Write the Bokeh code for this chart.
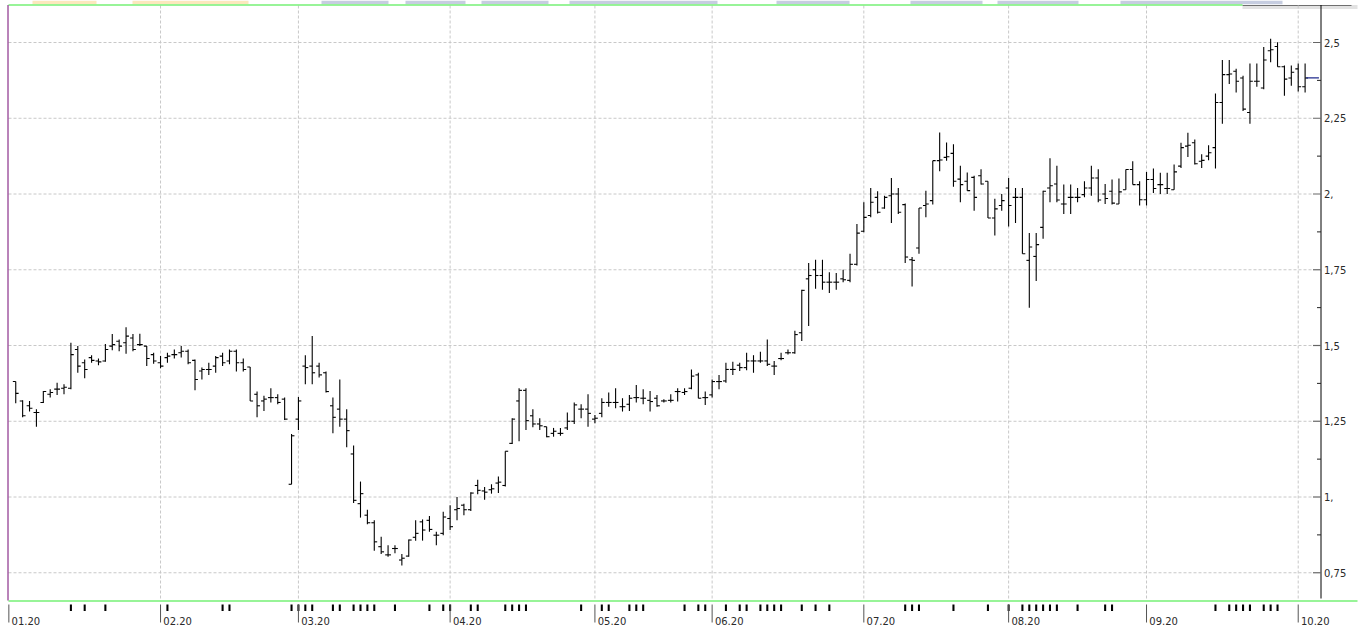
from bokeh.plotting import figure
from bokeh.models import Range1d
from bokeh.core.properties import value
from bokeh.embed import file_html
from bokeh.resources import INLINE

# ---------------- data ----------------
bar_open = [
    1.381, 1.317, 1.301, 1.279, 1.312, 1.339, 1.356, 1.359, 1.359, 1.487,
    1.443, 1.460, 1.449, 1.449, 1.498, 1.514, 1.509, 1.525, 1.503, 1.498,
    1.470, 1.443, 1.460, 1.470, 1.476, 1.481, 1.451, 1.416, 1.421, 1.432,
    1.465, 1.449, 1.481, 1.443, 1.429, 1.339, 1.317, 1.328, 1.328, 1.323,
    1.042, 1.257, 1.432, 1.432, 1.432, 1.410, 1.301, 1.290, 1.257, 1.142,
    0.978, 0.940, 0.915, 0.836, 0.809, 0.830, 0.792, 0.805, 0.867, 0.918,
    0.923, 0.874, 0.880, 0.929, 0.958, 0.973, 0.958, 1.038, 1.020, 1.024,
    1.046, 1.038, 1.177, 1.317, 1.352, 1.268, 1.241, 1.232, 1.210, 1.210,
    1.228, 1.250, 1.290, 1.290, 1.257, 1.276, 1.312, 1.312, 1.298, 1.306,
    1.328, 1.326, 1.319, 1.326, 1.317, 1.319, 1.348, 1.345, 1.359, 1.403,
    1.328, 1.337, 1.381, 1.383, 1.421, 1.435, 1.427, 1.449, 1.449, 1.449,
    1.432, 1.457, 1.476, 1.476, 1.542, 1.720, 1.750, 1.731, 1.709, 1.709,
    1.720, 1.715, 1.768, 1.877, 1.929, 1.989, 1.954, 1.994, 2.000, 1.965,
    1.783, 1.822, 1.962, 1.978, 2.110, 2.121, 2.134, 2.049, 2.042, 2.055,
    2.060, 2.042, 1.921, 1.962, 2.020, 1.989, 1.989, 1.781, 1.794, 1.890,
    2.020, 2.033, 1.967, 1.989, 1.989, 1.998, 2.020, 2.053, 2.000, 2.009,
    1.967, 2.014, 2.081, 2.031, 1.981, 2.048, 2.031, 2.018, 2.014, 2.092,
    2.158, 2.169, 2.108, 2.125, 2.153, 2.302, 2.394, 2.405, 2.383, 2.269,
    2.372, 2.350, 2.473, 2.487, 2.420, 2.383, 2.413, 2.354,
]
bar_high = [
    1.381, 1.319, 1.317, 1.290, 1.350, 1.356, 1.377, 1.372, 1.509, 1.498,
    1.454, 1.468, 1.457, 1.505, 1.538, 1.520, 1.560, 1.538, 1.539, 1.498,
    1.476, 1.465, 1.476, 1.487, 1.498, 1.487, 1.454, 1.427, 1.443, 1.465,
    1.476, 1.487, 1.487, 1.457, 1.429, 1.348, 1.334, 1.359, 1.339, 1.328,
    1.208, 1.330, 1.468, 1.531, 1.443, 1.414, 1.328, 1.388, 1.290, 1.170,
    1.051, 0.958, 0.923, 0.869, 0.841, 0.841, 0.812, 0.860, 0.923, 0.926,
    0.937, 0.885, 0.951, 0.973, 1.000, 0.978, 1.016, 1.057, 1.033, 1.042,
    1.068, 1.151, 1.260, 1.359, 1.359, 1.290, 1.260, 1.232, 1.228, 1.228,
    1.279, 1.312, 1.306, 1.339, 1.271, 1.326, 1.345, 1.359, 1.326, 1.337,
    1.370, 1.356, 1.350, 1.337, 1.323, 1.339, 1.359, 1.359, 1.421, 1.410,
    1.348, 1.388, 1.403, 1.443, 1.446, 1.443, 1.476, 1.468, 1.479, 1.520,
    1.449, 1.476, 1.487, 1.549, 1.684, 1.772, 1.783, 1.783, 1.742, 1.739,
    1.750, 1.803, 1.901, 1.973, 2.020, 2.009, 1.994, 2.053, 2.020, 1.969,
    1.792, 1.954, 2.011, 2.110, 2.203, 2.170, 2.164, 2.093, 2.071, 2.060,
    2.082, 2.042, 1.984, 2.000, 2.053, 2.020, 2.020, 1.871, 1.871, 2.011,
    2.118, 2.093, 2.031, 2.031, 2.020, 2.042, 2.093, 2.082, 2.033, 2.048,
    2.051, 2.081, 2.108, 2.042, 2.073, 2.084, 2.070, 2.070, 2.097, 2.169,
    2.202, 2.180, 2.131, 2.161, 2.332, 2.442, 2.442, 2.413, 2.390, 2.431,
    2.431, 2.485, 2.512, 2.501, 2.424, 2.424, 2.431, 2.431,
]
bar_low = [
    1.309, 1.263, 1.282, 1.232, 1.310, 1.328, 1.337, 1.339, 1.356, 1.410,
    1.392, 1.443, 1.435, 1.446, 1.484, 1.481, 1.473, 1.481, 1.498, 1.432,
    1.440, 1.425, 1.443, 1.457, 1.460, 1.438, 1.352, 1.388, 1.403, 1.410,
    1.432, 1.438, 1.414, 1.414, 1.317, 1.263, 1.284, 1.312, 1.306, 1.254,
    1.042, 1.221, 1.372, 1.372, 1.394, 1.345, 1.210, 1.232, 1.164, 0.980,
    0.932, 0.910, 0.823, 0.812, 0.803, 0.814, 0.774, 0.803, 0.856, 0.856,
    0.885, 0.841, 0.874, 0.891, 0.923, 0.940, 0.954, 1.009, 0.991, 1.011,
    1.013, 1.035, 1.175, 1.184, 1.221, 1.230, 1.221, 1.197, 1.199, 1.202,
    1.221, 1.241, 1.260, 1.232, 1.243, 1.263, 1.298, 1.293, 1.282, 1.284,
    1.312, 1.306, 1.282, 1.298, 1.312, 1.312, 1.315, 1.337, 1.356, 1.326,
    1.304, 1.328, 1.356, 1.377, 1.403, 1.416, 1.418, 1.410, 1.443, 1.432,
    1.403, 1.451, 1.470, 1.473, 1.515, 1.564, 1.687, 1.684, 1.673, 1.684,
    1.709, 1.709, 1.764, 1.874, 1.923, 1.936, 1.951, 1.904, 1.934, 1.772,
    1.695, 1.803, 1.923, 1.965, 2.075, 2.110, 2.024, 1.973, 2.011, 1.945,
    2.031, 1.921, 1.863, 1.945, 1.893, 1.904, 1.803, 1.625, 1.713, 1.852,
    1.973, 1.973, 1.934, 1.934, 1.973, 1.989, 1.994, 1.973, 1.967, 1.965,
    1.967, 2.014, 2.031, 1.962, 1.962, 2.003, 2.000, 2.000, 2.014, 2.086,
    2.122, 2.097, 2.086, 2.111, 2.084, 2.232, 2.363, 2.335, 2.274, 2.232,
    2.354, 2.346, 2.435, 2.420, 2.324, 2.357, 2.338, 2.335,
]
bar_close = [
    1.342, 1.268, 1.293, 1.279, 1.348, 1.345, 1.356, 1.362, 1.470, 1.432,
    1.421, 1.451, 1.446, 1.487, 1.503, 1.498, 1.531, 1.487, 1.503, 1.457,
    1.449, 1.432, 1.465, 1.470, 1.481, 1.443, 1.388, 1.421, 1.421, 1.460,
    1.443, 1.481, 1.443, 1.421, 1.317, 1.301, 1.323, 1.328, 1.312, 1.257,
    1.202, 1.317, 1.427, 1.410, 1.403, 1.348, 1.263, 1.257, 1.219, 0.989,
    1.011, 0.915, 0.852, 0.819, 0.809, 0.830, 0.798, 0.858, 0.880, 0.891,
    0.893, 0.874, 0.934, 0.902, 0.962, 0.958, 1.013, 1.022, 1.016, 1.027,
    1.049, 1.151, 1.257, 1.352, 1.252, 1.241, 1.235, 1.199, 1.217, 1.210,
    1.250, 1.304, 1.290, 1.276, 1.260, 1.312, 1.312, 1.312, 1.298, 1.326,
    1.328, 1.326, 1.315, 1.301, 1.317, 1.319, 1.348, 1.348, 1.399, 1.326,
    1.328, 1.381, 1.381, 1.421, 1.421, 1.427, 1.449, 1.449, 1.449, 1.438,
    1.432, 1.457, 1.476, 1.536, 1.682, 1.731, 1.731, 1.709, 1.709, 1.709,
    1.717, 1.768, 1.871, 1.923, 1.973, 1.940, 1.989, 2.000, 1.940, 1.792,
    1.781, 1.954, 1.967, 2.110, 2.112, 2.123, 2.042, 2.031, 2.011, 1.989,
    2.033, 1.921, 1.951, 1.978, 1.962, 1.989, 1.803, 1.825, 1.833, 2.009,
    2.027, 1.980, 1.967, 1.989, 1.989, 2.020, 2.053, 1.980, 1.985, 1.970,
    2.007, 2.081, 2.031, 1.981, 2.048, 2.018, 2.031, 2.018, 2.073, 2.153,
    2.161, 2.100, 2.111, 2.136, 2.302, 2.394, 2.396, 2.372, 2.280, 2.372,
    2.372, 2.442, 2.476, 2.420, 2.379, 2.402, 2.354, 2.383,
]
last_price = 2.383

month_labels = ["01.20", "02.20", "03.20", "04.20", "05.20",
                "06.20", "07.20", "08.20", "09.20", "10.20"]
month_start_bar = [0, 22, 42, 64, 85, 102, 124, 145, 165, 187]

y_ticks = [0.75, 1.0, 1.25, 1.5, 1.75, 2.0, 2.25, 2.5]
y_tick_labels = ["0,75", "1,", "1,25", "1,5", "1,75", "2,", "2,25", "2,5"]
y_minor_ticks = [0.875, 1.125, 1.375, 1.625, 1.875, 2.125, 2.375]

event_bars = [9, 11, 14, 23, 31, 32, 41, 42, 43, 44, 47, 48, 50, 51, 52, 53,
              56, 61, 63, 64, 67, 68, 72, 73, 74, 75, 83, 86, 87, 90, 91, 92,
              98, 100, 101, 104, 106, 107, 109, 110, 111, 112, 115, 117, 119,
              130, 131, 132, 137, 142, 145, 147, 148, 149, 150, 151, 152, 155,
              159, 160, 175, 177, 178, 179, 180, 182, 183, 184]

# ---------------- layout helpers ----------------
W, H = 1362, 626
BAR_PX = 6.895          # pixels per trading day
UNIT_PX = 303.0         # pixels per 1.0 of price
X0 = -0.05              # data x at the left frame line (page x = 8)
Y_TOP = 2.5 + 42 / UNIT_PX


def fx(px):
    return X0 + (px - 8) / BAR_PX


def fy(py):
    return Y_TOP - py / UNIT_PX


n = len(bar_close)
idx = list(range(1, n + 1))
tick_w = 0.42

p = figure(width=W, height=H,
           x_range=Range1d(fx(0), fx(W)),
           y_range=Range1d(fy(H), fy(0)),
           output_backend="svg", toolbar_location=None,
           x_axis_location=None, y_axis_location=None,
           min_border=0, outline_line_color=None,
           background_fill_color="white", border_fill_color="white")
p.grid.visible = False

axis_x = fx(1320.5)
major_len = 8 / BAR_PX
minor_len = 4 / BAR_PX

# top strip remnants
yellow_spans = [(32, 96), (132, 248)]
blue_spans = [(321, 388), (405, 465), (481, 548), (569, 717), (776, 849),
              (910, 982), (997, 1078), (1120, 1282)]
p.quad(left=[fx(a) for a, b in yellow_spans], right=[fx(b) for a, b in yellow_spans],
       top=fy(0), bottom=fy(3.8), color="#fce8bd", line_color=None)
p.quad(left=[fx(a) for a, b in blue_spans], right=[fx(b) for a, b in blue_spans],
       top=fy(0), bottom=fy(3.8), color="#c6cde0", line_color=None)
p.quad(left=fx(1242), right=fx(1357), top=fy(4.5), bottom=fy(8.5),
       color="#e2e2e2", line_color=None)
p.segment(fx(1242), fy(5), fx(1351), fy(5), line_color="#6f6f6f", line_width=1.2)

# grid lines
p.segment(x0=fx(8), y0=y_ticks, x1=axis_x - major_len, y1=y_ticks,
          line_color="#c8c8c8", line_width=1, line_dash="3 2")
p.segment(x0=month_start_bar[1:], y0=fy(5), x1=month_start_bar[1:], y1=fy(600),
          line_color="#c8c8c8", line_width=1, line_dash="3 2")

# frame lines
p.segment(fx(8), fy(4.5), fx(1242), fy(4.5), line_color="#76f076", line_width=1.6)
p.segment(fx(8), fy(600.5), fx(1357), fy(600.5), line_color="#76f076", line_width=1.6)
p.segment(fx(7.5), fy(4.5), fx(7.5), fy(600), line_color="#740874", line_width=1)

# OHLC bars
p.segment(x0=idx, y0=bar_low, x1=idx, y1=bar_high, line_color="#000000", line_width=1.1)
p.segment(x0=[i - tick_w for i in idx], y0=bar_open, x1=idx, y1=bar_open,
          line_color="#000000", line_width=1.1)
p.segment(x0=idx, y0=bar_close, x1=[i + tick_w for i in idx], y1=bar_close,
          line_color="#000000", line_width=1.1)

# last price marker
p.segment(n + 0.15, last_price, axis_x - 0.3, last_price, line_color="#1f2a8c", line_width=1.3)

# right price axis
p.segment(axis_x, fy(4.5), axis_x, fy(598), line_color="#000000", line_width=1)
p.segment(x0=axis_x - major_len, y0=y_ticks, x1=axis_x, y1=y_ticks,
          line_color="#666666", line_width=1.2)
p.segment(x0=axis_x - minor_len, y0=y_minor_ticks, x1=axis_x, y1=y_minor_ticks,
          line_color="#222222", line_width=1)
p.text(x=[axis_x + 3 / BAR_PX] * len(y_ticks), y=y_ticks, text=y_tick_labels,
       text_font=value("DejaVu Sans"), text_font_size="10px", text_color="#2a2a2a",
       text_align="left", text_baseline="middle")

# time axis strip
p.vbar(x=event_bars, width=0.3, bottom=fy(610.5), top=fy(604),
       color="#000000", line_color=None)
p.segment(x0=month_start_bar, y0=fy(604), x1=month_start_bar, y1=fy(622),
          line_color="#555555", line_width=1)
p.text(x=[m + 0.4 for m in month_start_bar], y=[fy(620.5)] * len(month_start_bar),
       text=month_labels, text_font=value("DejaVu Sans"), text_font_size="10px",
       text_color="#2a2a2a", text_align="left", text_baseline="alphabetic")

open("out.html", "w").write(file_html(p, INLINE))
